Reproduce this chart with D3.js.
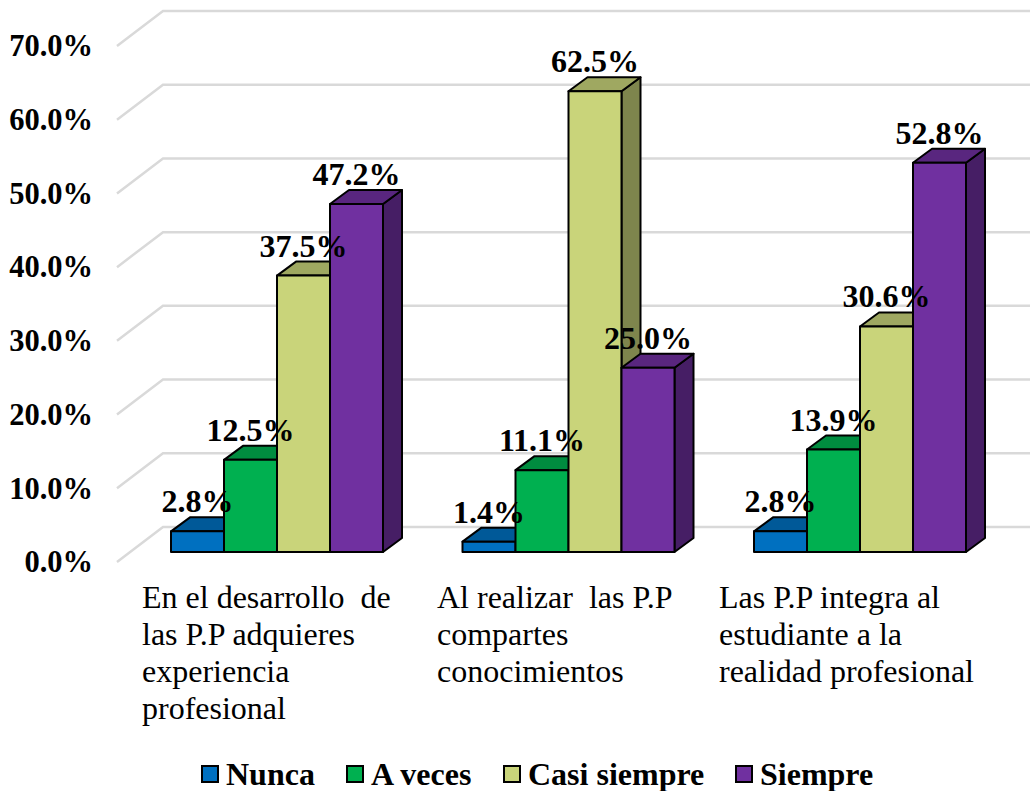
<!DOCTYPE html>
<html lang="es">
<head>
    <meta charset="utf-8">
    <style type="text/css">
        body { margin: 0; background: #fff; }
        svg { display: block; }
        text { font-family: "Liberation Serif", serif; fill: #000; }
        .tick text, .value, .legend text { font-weight: bold; }
        .grid { fill: none; stroke: #d9d9d9; stroke-width: 2.5px; }
        .bar path { stroke: #000; stroke-width: 2px; stroke-linejoin: round; }
    </style>
</head>
<body>
<svg width="1030" height="791"></svg>

<script src="https://d3js.org/d3.v7.min.js"></script>
<script type="text/javascript">
    var categories = [
        ["En el desarrollo  de", "las P.P adquieres", "experiencia", "profesional"],
        ["Al realizar  las P.P", "compartes", "conocimientos"],
        ["Las P.P integra al", "estudiante a la", "realidad profesional"]
    ];
    var seriesNames = ["Nunca", "A veces", "Casi siempre", "Siempre"];
    var nunca = [2.8, 1.4, 2.8];
    var aVeces = [12.5, 11.1, 13.9];
    var casiSiempre = [37.5, 62.5, 30.6];
    var siempre = [47.2, 25.0, 52.8];
    var yTicks = [0, 10, 20, 30, 40, 50, 60, 70];

    var seriesValues = [nunca, aVeces, casiSiempre, siempre];
    var colors = ["#0070c0", "#00b050", "#c9d47a", "#7030a0"];

    var svg = d3.select("svg"),
        width = +svg.attr("width");

    var baseY = 552,
        depthX = 19, depthY = 14;   // bar depth

    var y = d3.scaleLinear().domain([0, 70]).range([baseY, baseY - 516]);
    var x0 = d3.scaleBand().domain(d3.range(categories.length)).range([131.25, 1005.75]);
    var x1 = d3.scaleBand().domain(d3.range(seriesNames.length))
        .range([0, x0.bandwidth()]).paddingInner(0).paddingOuter(0.75);

    // gridlines: floor diagonal + back wall
    svg.append("g").selectAll("path")
        .data(yTicks)
        .enter()
        .append("path")
        .attr("class", "grid")
        .attr("d", function (d) {
            return "M117," + (y(d) + 10) + "L163," + (y(d) - 25) + "H" + width;
        });

    var axis = d3.axisLeft(y).tickValues(yTicks).tickSize(0).tickPadding(0)
        .tickFormat(function (d) { return d.toFixed(1) + "%"; });
    svg.append("g")
        .attr("transform", "translate(93,10)")
        .call(axis)
        .call(function (g) { g.select(".domain").remove(); })
        .selectAll("text")
        .attr("font-size", 30.5)
        .style("font-family", '"Liberation Serif", serif');

    // bars, left to right so each one covers the side of the previous
    var bars = [];
    categories.forEach(function (c, i) {
        seriesValues.forEach(function (vals, s) {
            bars.push({cat: i, s: s, value: vals[i]});
        });
    });

    var bar = svg.append("g").selectAll("g")
        .data(bars)
        .enter()
        .append("g")
        .attr("class", "bar");

    function left(d) { return x0(d.cat) + x1(d.s); }

    bar.append("path")
        .attr("fill", function (d) { return d3.rgb(colors[d.s]).darker(1.3); })
        .attr("d", function (d) {
            var r = left(d) + x1.bandwidth(), t = y(d.value);
            return "M" + r + "," + t + "l" + depthX + "," + (-depthY) + "V" + (baseY - depthY) + "L" + r + "," + baseY + "Z";
        });
    bar.append("path")
        .attr("fill", function (d) { return d3.rgb(colors[d.s]).darker(0.65); })
        .attr("d", function (d) {
            var t = y(d.value);
            return "M" + left(d) + "," + t + "l" + depthX + "," + (-depthY) + "h" + x1.bandwidth() + "l" + (-depthX) + "," + depthY + "Z";
        });
    bar.append("path")
        .attr("fill", function (d) { return colors[d.s]; })
        .attr("d", function (d) {
            var t = y(d.value);
            return "M" + left(d) + "," + t + "h" + x1.bandwidth() + "V" + baseY + "H" + left(d) + "Z";
        });

    // labels on top of everything
    svg.append("g").selectAll("text")
        .data(bars)
        .enter()
        .append("text")
        .attr("class", "value")
        .attr("font-size", 32)
        .attr("text-anchor", "middle")
        .attr("x", function (d) { return left(d) + x1.bandwidth() / 2; })
        .attr("y", function (d) { return y(d.value) - 19; })
        .text(function (d) { return d.value.toFixed(1) + "%"; });

    // category labels
    var catX = [142, 437, 719];
    svg.append("g").selectAll("text")
        .data(categories)
        .enter()
        .append("text")
        .attr("font-size", 32)
        .attr("xml:space", "preserve")
        .style("white-space", "pre")
        .each(function (lines, i) {
            d3.select(this).selectAll("tspan")
                .data(lines)
                .enter()
                .append("tspan")
                .attr("x", catX[i])
                .attr("y", function (d, k) { return 608 + k * 37; })
                .text(function (d) { return d; });
        });

    // legend
    var swatchX = [202, 347, 504, 736];
    var legend = svg.append("g").attr("class", "legend").selectAll("g")
        .data(seriesNames)
        .enter()
        .append("g")
        .attr("transform", function (d, i) { return "translate(" + swatchX[i] + ",0)"; });
    legend.append("rect")
        .attr("y", 766)
        .attr("width", 16)
        .attr("height", 16)
        .attr("fill", function (d, i) { return colors[i]; })
        .attr("stroke", "#000")
        .attr("stroke-width", 2);
    legend.append("text")
        .attr("x", 24)
        .attr("y", 785)
        .attr("font-size", 32)
        .text(function (d) { return d; });
</script>

</body>
</html>
